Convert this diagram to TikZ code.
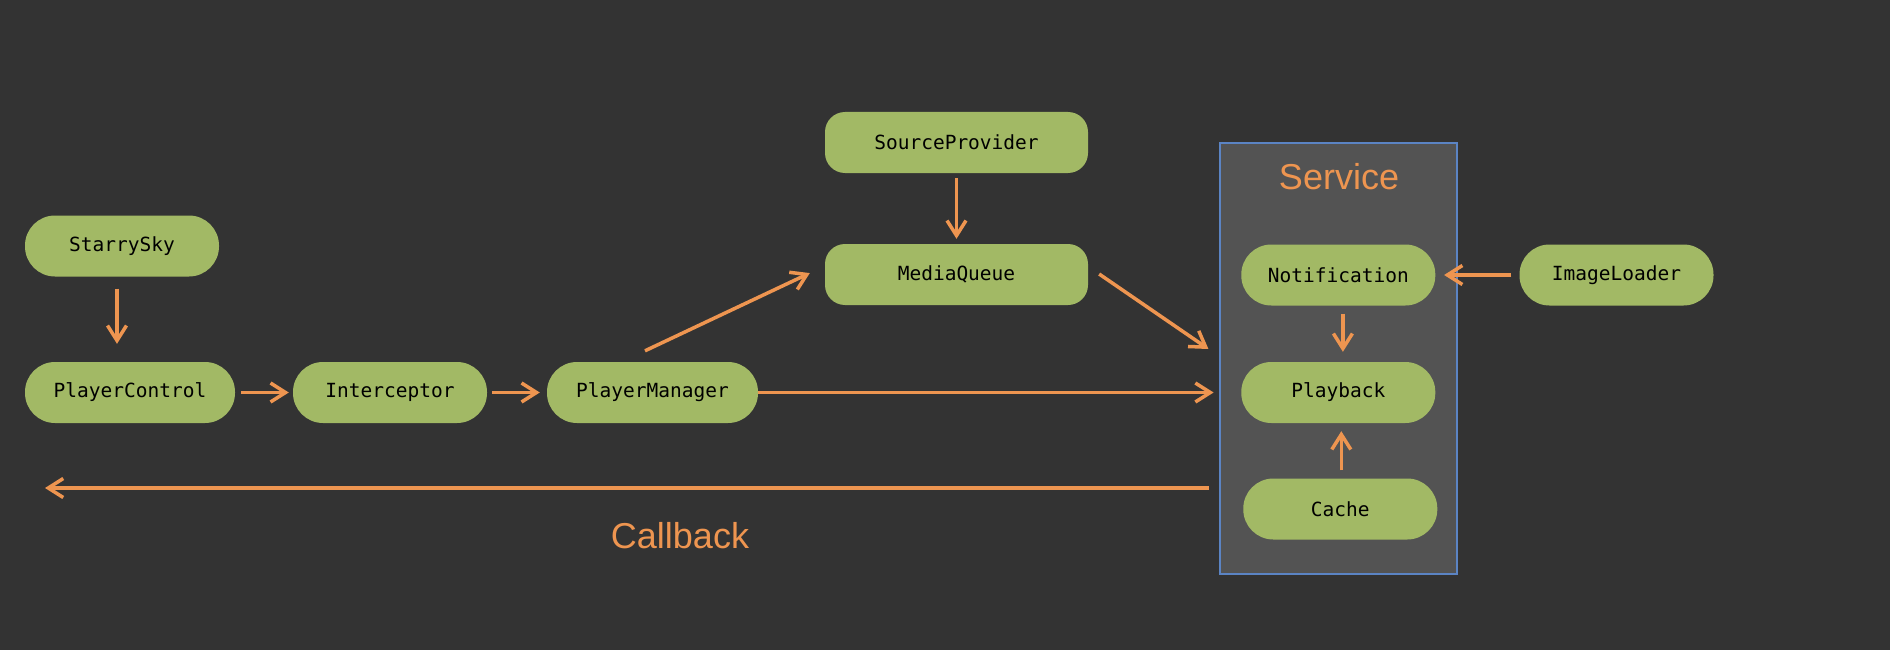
\documentclass[tikz,border=0pt]{standalone}
\usepackage{fontspec}
\setmonofont{DejaVu Sans Mono}
\setsansfont{Liberation Sans}
\usetikzlibrary{arrows.meta}
\definecolor{bgc}{HTML}{333333}
\definecolor{boxgreen}{HTML}{A2B965}
\definecolor{linec}{HTML}{EE9550}
\definecolor{svcfill}{HTML}{535353}
\definecolor{svcline}{HTML}{5B84C4}
\begin{document}
\begin{tikzpicture}[x=1pt,y=-1pt,pill/.style={fill=boxgreen,rounded corners=30pt,minimum
					height=61pt,minimum width=194pt,inner sep=0pt,text=black,font=\ttfamily\fontsize{19.5}{23}\selectfont},qbox/.style={pill,rounded
					corners=20pt,minimum width=263pt},lbl/.style={text=linec,font=\sffamily\fontsize{36}{40}\selectfont},arr/.style={draw=linec,line
					width=3.5pt,-{Straight Barb[length=15pt,width=19pt]}}]
		\path[use as bounding box,fill=bgc] (0,0) rectangle (1890,650);
		\node (svc) at (1338.4,358.5) [draw=svcline,line width=2pt,fill=svcfill,minimum width=237.6pt,minimum
			height=431pt,inner sep=0pt] {};
		\node[lbl] (svct) at (1339,177) {Service};
		\node[pill] (ss) at (122,246) {StarrySky};
		\node[pill,minimum width=210pt] (pc) at (130,392.5) {PlayerControl};
		\node[pill] (ic) at (390,392.5) {Interceptor};
		\node[pill,minimum width=211pt] (pm) at (652.5,392.5) {PlayerManager};
		\node[qbox] (sp) at (956.5,142.5) {SourceProvider};
		\node[qbox] (mq) at (956.5,274.5) {MediaQueue};
		\node[pill] (nt) at (1338.3,275) {Notification};
		\node[pill] (pb) at (1338.3,392.5) {Playback};
		\node[pill] (ca) at (1340.3,509) {Cache};
		\node[pill] (il) at (1616.5,275) {ImageLoader};
		\node[lbl] (cb) at (680,535.5) {Callback};
		\coordinate (cbend) at (45,488);
		\draw[arr,shorten <=12pt,shorten >=18pt] ([xshift=-5pt]ss.south) -- ([xshift=-5pt]ss.south |- pc.north);
		\draw[arr,shorten <=6pt,shorten >=4pt] (pc) -- (ic);
		\draw[arr,shorten <=5pt,shorten >=7pt] (ic) -- (pm);
		\draw[arr,shorten >=27.5pt] (pm) -- (pb);
		\draw[arr,shorten >=16.6pt] ([xshift=-7.5pt,yshift=11pt]pm.north) -- ([yshift=8.5pt]mq.west);
		\draw[arr,shorten <=5pt,shorten >=5pt] (sp) -- (mq);
		\draw[arr,shorten <=13.3pt,shorten >=39.6pt] ([yshift=8pt]mq.east) -- ([yshift=21.1pt]pb.west);
		\draw[arr,shorten <=8pt,shorten >=8.6pt] (il) -- (nt);
		\draw[arr,shorten <=8pt,shorten >=10pt] ([xshift=4.6pt]nt.south) -- ([xshift=4.6pt]pb.north);
		\draw[arr,shorten <=8pt,shorten >=8pt] ([xshift=1pt]ca.north) -- ([xshift=1pt]ca.north |- pb.south);
		\draw[arr,shorten <=10pt] (svc.west |- cbend) -- (cbend);
	\end{tikzpicture}
\end{document}
